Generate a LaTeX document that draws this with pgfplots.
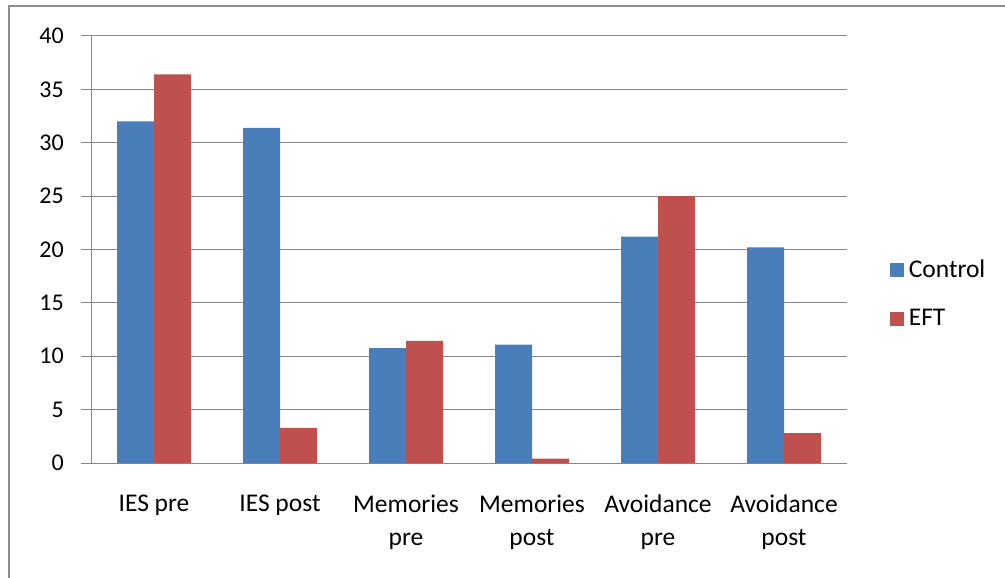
\documentclass[border=0pt]{standalone}
\usepackage{pgfplots}
\pgfplotsset{compat=1.18}
\usepackage{fontspec}
\setmainfont{Carlito}
\definecolor{cblue}{HTML}{4A7EBB}
\definecolor{cred}{HTML}{C0504D}
\definecolor{gridc}{HTML}{878787}
\definecolor{framec}{HTML}{8C8C8C}
\begin{document}
\fontsize{24bp}{33bp}\selectfont
\begin{tikzpicture}[x=1bp,y=1bp]
\path[use as bounding box] (0,0) rectangle (1005,-578);
\draw[framec, line width=2.5bp] (9,-578) -- (9,-6) -- (1005,-6);
\begin{axis}[
  at={(91bp,-463bp)}, anchor=south west,
  scale only axis, width=756bp, height=427bp,
  ybar=0pt, bar width=37bp,
  xmin=-0.5, xmax=5.5, ymin=0, ymax=40,
  axis x line*=bottom, axis y line*=left,
  axis line style={gridc, line width=1bp},
  ytick={0,5,...,40},
  ymajorgrids, grid style={gridc, line width=1bp},
  tick align=outside, major tick length=10bp,
  tick style={gridc, line width=1bp},
  /pgf/number format/assume math mode=true,
  xtick={0,...,5},
  xticklabels={IES pre, IES post, Memories\\pre, Memories\\post, Avoidance\\pre, Avoidance\\post},
  xtick style={draw=none},
  extra x ticks={-0.5,0.5,1.5,2.5,3.5,4.5,5.5},
  extra x tick labels={},
  extra x tick style={xtick style={gridc, line width=1bp}, major tick length=9bp, grid=none},
  xticklabel style={align=center, anchor=north, yshift=-14bp, font=\fontsize{25.5bp}{33bp}\selectfont},
  yticklabel style={anchor=east, xshift=-9bp},
  legend style={draw=none, fill=none, at={(1.057,0.395)}, anchor=west, row sep=24bp, font=\fontsize{25.5bp}{29bp}\selectfont, inner sep=0pt, nodes={inner xsep=4.5bp}},
  legend cell align=left,
  legend image code/.code={\fill[#1] (0bp,-7bp) rectangle (14bp,7bp);},
]
\addplot[fill=cblue, draw=none] coordinates {(0,32.0) (1,31.4) (2,10.75) (3,11.1) (4,21.2) (5,20.2)};
\addplot[fill=cred, draw=none] coordinates {(0,36.4) (1,3.3) (2,11.45) (3,0.4) (4,25.0) (5,2.8)};
\legend{Control, EFT}
\end{axis}
\end{tikzpicture}
\end{document}
